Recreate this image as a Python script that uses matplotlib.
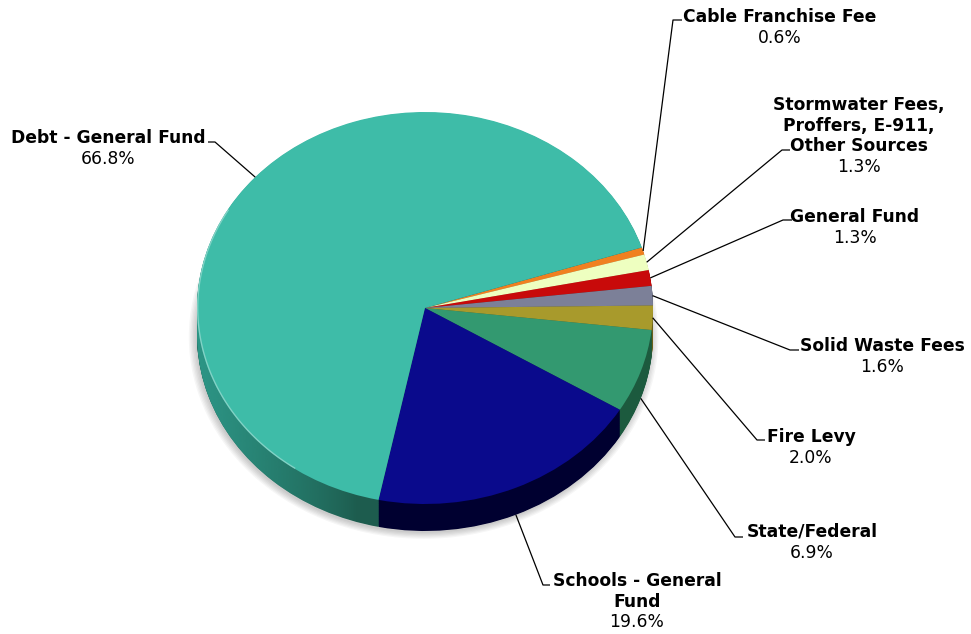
import matplotlib.pyplot as plt
from matplotlib.patches import Polygon
from matplotlib.colors import to_rgb
import numpy as np

# data, clockwise from the top-right
labels = ["Cable Franchise Fee", "Stormwater Fees,\nProffers, E-911,\nOther Sources",
          "General Fund", "Solid Waste Fees", "Fire Levy", "State/Federal",
          "Schools - General\nFund", "Debt - General Fund"]
shares = [0.6, 1.3, 1.3, 1.6, 2.0, 6.9, 19.6, 66.8]
top_colors = ["#F08020", "#EEFFC0", "#C80A0A", "#7C8098", "#A89A2C", "#339970", "#0A0A8C", "#3EBCA8"]
side_colors = ["#A05010", "#A8B888", "#7A0000", "#4A4E60", "#6A601A", "#1C5A3E", "#000030", "#1D5C4E"]

# label layout (pixels from top-left): text centre x, first baseline y, elbow x, elbow y, tick length
label_x = [780, 859, 855, 882, 811, 812, 637, 108]
label_y = [22, 110, 222, 351, 442, 537, 586, 143]
elbow = [(673, 20, 9), (782, 150, 8), (783, 220, 9), (790, 350, 9),
         (757, 440, 8), (735, 537, 8), (543, 585, 7), (215, 142, -7)]

W, H = 971, 634
CX, CY, RX, RY = 425, 308, 228, 196
DEPTH = 27 / RY
START = 18


def px(x, y):
    return (x - CX) / RX, (CY - y) / RY


fig = plt.figure(figsize=(W / 100, H / 100), dpi=100)
ax = fig.add_axes([0, 0, 1, 1])

# soft shadow
for i in range(6):
    ax.pie([1], radius=1.0 + 0.006 * i, center=(-0.006, -DEPTH - 0.01),
           colors=[(0, 0, 0, 0.035)], wedgeprops=dict(linewidth=0))

# side wall from stacked pies
n = 40
for k in range(n, 0, -1):
    ax.pie(shares, colors=side_colors, startangle=START, counterclock=False,
           radius=1, center=(0, -DEPTH * k / n), wedgeprops=dict(linewidth=0))

# light falling on the left side of the wall (teal tint)
t = np.linspace(0, 2 * np.pi, 400)
outline = np.column_stack([np.cos(t), np.sin(t) - np.where(t > np.pi, DEPTH, 0)])
clip = Polygon(outline, closed=True, transform=ax.transData, facecolor='none', edgecolor='none')
ax.add_patch(clip)
gx = np.linspace(-1, 1, 300)
alpha = np.clip((-0.3 - gx) / 0.7, 0, 1) ** 0.8 * 0.85
grad = np.zeros((1, gx.size, 4))
grad[0, :, :3] = to_rgb("#30A090")
grad[0, :, 3] = alpha
img = ax.imshow(grad, extent=(-1, 1, -1 - DEPTH, 1), aspect='auto',
                interpolation='bilinear', zorder=1.5)
img.set_clip_path(clip)

wedges, _ = ax.pie(shares, colors=top_colors, startangle=START, counterclock=False,
                   radius=1, center=(0, 0), wedgeprops=dict(linewidth=0))
for w in wedges:
    w.set_zorder(2)

# thin highlight on the rim
a = np.deg2rad(np.linspace(150, 235, 100))
ax.plot(np.cos(a) * 0.997, np.sin(a) * 0.997, color='white', alpha=0.35, lw=1, zorder=3)

ax.set_aspect('auto')
ax.set_xlim(-CX / RX, (W - CX) / RX)
ax.set_ylim((CY - H) / RY, CY / RY)
ax.axis('off')

for w, lab, share, lx, ly, (ex, ey, dx) in zip(wedges, labels, shares, label_x, label_y, elbow):
    mid = np.deg2rad((w.theta1 + w.theta2) / 2)
    axx, axy = np.cos(mid), np.sin(mid)
    if axy < -0.2:
        axy -= DEPTH
    x0, y0 = px(ex, ey)
    x1, y1 = px(ex + dx, ey)
    ax.plot([axx, x0, x1], [axy, y0, y1], color='black', lw=0.9,
            solid_capstyle='butt', zorder=3)
    nlines = lab.count("\n") + 1
    for i, line in enumerate(lab.split("\n")):
        ax.text(*px(lx, ly + i * 20.7), line, ha='center', va='baseline',
                fontsize=12.3, fontweight='bold', color='black', zorder=4)
    ax.text(*px(lx, ly + nlines * 20.7), f"{share:.1f}%", ha='center', va='baseline',
            fontsize=12.3, color='black', zorder=4)

fig.savefig("out.png", dpi=100, facecolor='white')
